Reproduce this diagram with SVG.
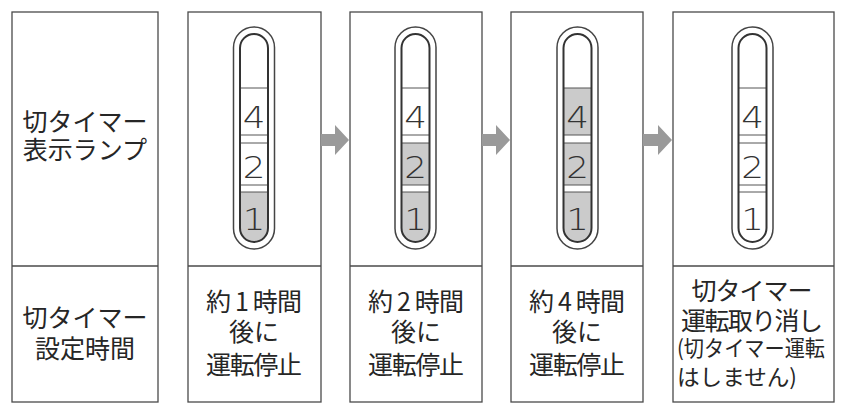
<svg xmlns="http://www.w3.org/2000/svg" width="843" height="406" viewBox="0 0 843 406">
<style>
.box{fill:#fff;stroke:#4a4a4a;stroke-width:1.3}
.div{stroke:#4a4a4a;stroke-width:1.3}
.outer{fill:#fff;stroke:#444;stroke-width:1.5}
.inner{fill:none;stroke:#333;stroke-width:2}
.seg{stroke:#555;stroke-width:1}
.on{fill:#cbcbcb}
.dig{font-family:"DejaVu Sans","Liberation Sans",sans-serif;font-size:31px;fill:#333;text-anchor:middle;font-weight:300}
.t{font-family:"Noto Sans CJK JP","Noto Sans",sans-serif;font-size:25px;fill:#262626;text-anchor:middle}
.s{font-family:"Noto Sans CJK JP","Noto Sans",sans-serif;font-size:22px;fill:#262626}
.arrow{fill:#9a9a9a}
</style>
<defs>
<clipPath id="ic"><rect x="-14" y="34" width="28" height="208" rx="14"/></clipPath>
<g id="segs">
<line class="seg" x1="-14" y1="88" x2="14" y2="88"/><line class="seg" x1="-14" y1="135" x2="14" y2="135"/><line class="seg" x1="-14" y1="143" x2="14" y2="143"/><line class="seg" x1="-14" y1="185" x2="14" y2="185"/><line class="seg" x1="-14" y1="192" x2="14" y2="192"/>
</g>
</defs>
<g id="label-column">
<rect class="box" x="12" y="12" width="146" height="390"/>
<line class="div" x1="12" y1="266" x2="158" y2="266"/>
<text class="t" x="85" y="131">切タイマー</text>
<text class="t" x="85" y="159">表示ランプ</text>
<text class="t" x="85" y="327">切タイマー</text>
<text class="t" x="85" y="358">設定時間</text>
</g>
<g id="state-1h">
<rect class="box" x="188" y="12" width="133" height="390"/>
<line class="div" x1="188" y1="266" x2="321" y2="266"/>
<g transform="translate(254,0)">
<rect class="outer" x="-20.5" y="27" width="41" height="222" rx="20.5"/>
<g clip-path="url(#ic)"><rect class="on" x="-14" y="192" width="28" height="50"/></g>
<use href="#segs"/>
<rect class="inner" x="-14" y="34" width="28" height="208" rx="14"/>
<g transform="scale(1.15,1)"><text class="dig" x="0" y="128">4</text><text class="dig" x="0" y="178">2</text><text class="dig" x="0" y="230">1</text></g>
</g>
<text class="t" x="254" y="311" textLength="96">約 1 時間</text>
<text class="t" x="254" y="341">後に</text>
<text class="t" x="254" y="374" textLength="96">運転停止</text>
</g>
<g id="state-2h">
<rect class="box" x="350" y="12" width="132" height="390"/>
<line class="div" x1="350" y1="266" x2="482" y2="266"/>
<g transform="translate(415.5,0)">
<rect class="outer" x="-20.5" y="27" width="41" height="222" rx="20.5"/>
<g clip-path="url(#ic)"><rect class="on" x="-14" y="192" width="28" height="50"/><rect class="on" x="-14" y="143" width="28" height="42"/></g>
<use href="#segs"/>
<rect class="inner" x="-14" y="34" width="28" height="208" rx="14"/>
<g transform="scale(1.15,1)"><text class="dig" x="0" y="128">4</text><text class="dig" x="0" y="178">2</text><text class="dig" x="0" y="230">1</text></g>
</g>
<text class="t" x="416" y="311" textLength="96">約 2 時間</text>
<text class="t" x="416" y="341">後に</text>
<text class="t" x="416" y="374" textLength="96">運転停止</text>
</g>
<g id="state-4h">
<rect class="box" x="511" y="12" width="132" height="390"/>
<line class="div" x1="511" y1="266" x2="643" y2="266"/>
<g transform="translate(577.5,0)">
<rect class="outer" x="-20.5" y="27" width="41" height="222" rx="20.5"/>
<g clip-path="url(#ic)"><rect class="on" x="-14" y="192" width="28" height="50"/><rect class="on" x="-14" y="143" width="28" height="42"/><rect class="on" x="-14" y="88" width="28" height="47"/></g>
<use href="#segs"/>
<rect class="inner" x="-14" y="34" width="28" height="208" rx="14"/>
<g transform="scale(1.15,1)"><text class="dig" x="0" y="128">4</text><text class="dig" x="0" y="178">2</text><text class="dig" x="0" y="230">1</text></g>
</g>
<text class="t" x="577" y="311" textLength="96">約 4 時間</text>
<text class="t" x="577" y="341">後に</text>
<text class="t" x="577" y="374" textLength="96">運転停止</text>
</g>
<g id="state-cancel">
<rect class="box" x="673" y="12" width="161" height="390"/>
<line class="div" x1="673" y1="266" x2="834" y2="266"/>
<g transform="translate(752.5,0)">
<rect class="outer" x="-20.5" y="27" width="41" height="222" rx="20.5"/>
<use href="#segs"/>
<rect class="inner" x="-14" y="34" width="28" height="208" rx="14"/>
<g transform="scale(1.15,1)"><text class="dig" x="0" y="128">4</text><text class="dig" x="0" y="178">2</text><text class="dig" x="0" y="230">1</text></g>
</g>
<text class="t" x="752" y="300" textLength="121">切タイマー</text>
<text class="t" x="752" y="330" textLength="142">運転取り消し</text>
<text class="s" x="677" y="356" textLength="148" lengthAdjust="spacingAndGlyphs">(切タイマー運転</text>
<text class="s" x="677" y="385" textLength="120" lengthAdjust="spacingAndGlyphs">はしません)</text>
</g>
<g id="connectors">
<polygon class="arrow" points="321,134 335,134 335,125 349,140 335,155 335,146 321,146"/>
<polygon class="arrow" points="482,134 496,134 496,125 510,140 496,155 496,146 482,146"/>
<polygon class="arrow" points="643,134 658,134 658,125 672,140 658,155 658,146 643,146"/>
</g>
</svg>
